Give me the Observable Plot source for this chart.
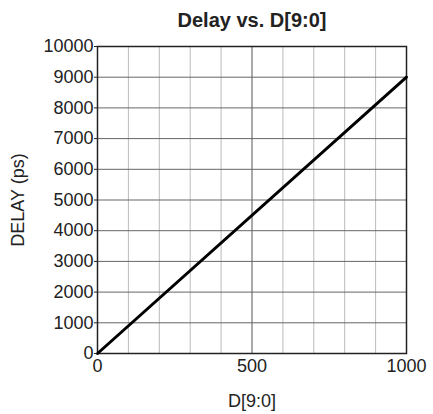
<!DOCTYPE html>
<html>
<head>
<meta charset="utf-8">
<script src="https://cdn.jsdelivr.net/npm/d3@7"></script>
<script src="https://cdn.jsdelivr.net/npm/@observablehq/plot@0.6"></script>
<style>
  html, body { margin: 0; padding: 0; background: #fff; }
</style>
</head>
<body>
<div id="chart"></div>
<script>
const title = "Delay vs. D[9:0]";
const xLabel = "D[9:0]";
const yLabel = "DELAY (ps)";
const xTicks = [0, 500, 1000];
const yTicks = [0, 1000, 2000, 3000, 4000, 5000, 6000, 7000, 8000, 9000, 10000];
const xGridMinor = [100, 200, 300, 400, 600, 700, 800, 900];
const xGridMajor = [500];
const dValues = [0, 1000];
const delayValues = [0, 9000];

const lineData = dValues.map((d, i) => ({d, delay: delayValues[i]}));

const chart = Plot.plot({
  width: 433,
  height: 414,
  marginLeft: 97,
  marginRight: 27,
  marginTop: 46,
  marginBottom: 61,
  style: {fontFamily: "'Liberation Sans', Arial, sans-serif", fontSize: "18px", color: "#222", background: "#fff"},
  x: {domain: [0, 1000]},
  y: {domain: [0, 10000]},
  marks: [
    Plot.ruleX(xGridMinor, {stroke: "#bbb", strokeWidth: 1}),
    Plot.ruleX(xGridMajor, {stroke: "#555", strokeWidth: 1}),
    Plot.ruleY(yTicks, {stroke: "#666", strokeWidth: 1}),
    Plot.frame({stroke: "#222", strokeWidth: 1.5}),
    Plot.line(lineData, {x: "d", y: "delay", stroke: "#000", strokeWidth: 3}),
    Plot.axisX({ticks: xTicks, tickSize: 0, tickPadding: 6, fontSize: 18, tickFormat: d => String(d), label: xLabel, labelAnchor: "center", labelArrow: "none", labelOffset: 53}),
    Plot.axisY({ticks: yTicks, tickSize: 3, tickPadding: 1, fontSize: 18, tickFormat: d => String(d), label: yLabel, labelAnchor: "center", labelArrow: "none", labelOffset: 86}),
    Plot.text([title], {frameAnchor: "top", dy: -34, fontSize: 20, fontWeight: "bold", dx: 0})
  ]
});
document.getElementById("chart").appendChild(chart);
</script>
</body>
</html>
